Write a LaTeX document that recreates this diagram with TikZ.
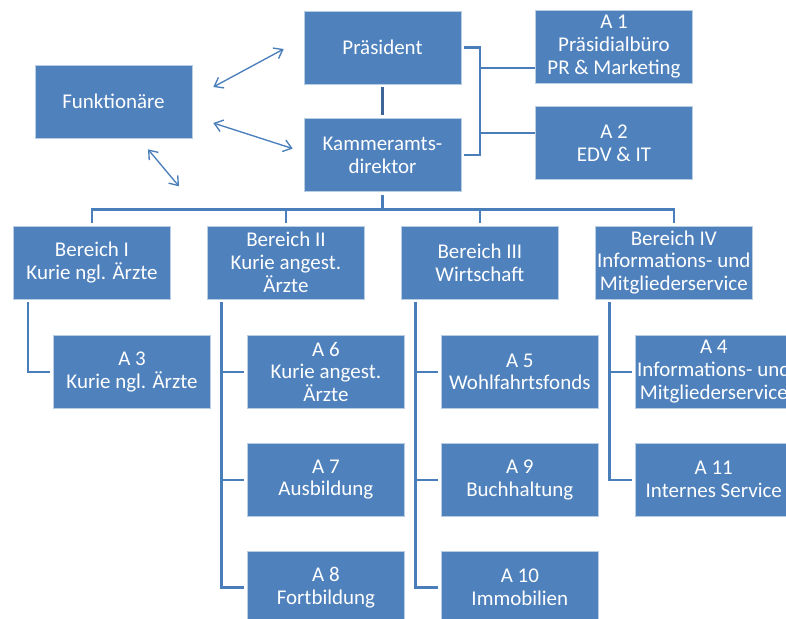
\documentclass[tikz,border=0pt]{standalone}
\usepackage{fontspec}
\setmainfont{Carlito}
\usepackage{xcolor}
\usepackage{tikz}
\usetikzlibrary{arrows.meta,positioning,calc}
\definecolor{BoxBlue}{HTML}{4F81BD}
\definecolor{LineBlue}{HTML}{4A7EBB}
\definecolor{DarkLine}{HTML}{3D6598}
\definecolor{EdgeBlue}{HTML}{B9CDE5}
\newcommand{\boxfont}{\fontsize{17.9pt}{19.4pt}\selectfont}

\begin{document}
\begin{tikzpicture}[
  x=0.3mm,y=-0.3mm,
  node distance=10.3mm and 10.9mm,
  box/.style={draw=EdgeBlue,line width=0.5pt,fill=BoxBlue,minimum width=47.1mm,minimum height=21.9mm,inner sep=0pt,align=center,text=white,font=\boxfont},
  conn/.style={draw=LineBlue,line width=2pt},
  link/.style={draw=DarkLine,line width=2.6pt},
  dbl/.style={{Straight Barb[length=2.4mm,width=3.6mm]}-{Straight Barb[length=2.4mm,width=3.6mm]},draw=LineBlue,line width=0.4mm}
]
\useasboundingbox (0,0) rectangle (786,618);
\node[box] (praes) at (382.5,47.5) {Präsident};
\node[box,below=10.2mm of praes] (kam) {Kammeramts-\\direktor};
\node[box] (funk) at (113.5,101.5) {Funktionäre};
\node[box] (a1) at (614,46.5) {A 1\\Präsidialbüro\\PR \& Marketing};
\node[box,below=6.9mm of a1] (a2) {A 2\\EDV \& IT};
\node[box] (b1) at (92,262.5) {Bereich I\\Kurie ngl. Ärzte};
\node[box,right=of b1] (b2) {Bereich II\\Kurie angest.\\Ärzte};
\node[box,right=of b2] (b3) {Bereich III\\Wirtschaft};
\node[box,right=of b3] (b4) {Bereich IV\\Informations- und\\Mitgliederservice};
\node[box,below=10.7mm of b1,xshift=12mm] (a3) {A 3\\Kurie ngl. Ärzte};
\node[box,below=10.7mm of b2,xshift=12mm] (a6) {A 6\\Kurie angest.\\Ärzte};
\node[box,below=of a6] (a7) {A 7\\Ausbildung};
\node[box,below=of a7] (a8) {A 8\\Fortbildung};
\node[box,below=10.7mm of b3,xshift=12mm] (a5) {A 5\\Wohlfahrtsfonds};
\node[box,below=of a5] (a9) {A 9\\Buchhaltung};
\node[box,below=of a9] (a10) {A 10\\Immobilien};
\node[box,below=10.7mm of b4,xshift=12mm] (a4) {A 4\\Informations- und\\Mitgliederservice};
\node[box,below=of a4] (a11) {A 11\\Internes Service};
% top
\draw[link] ([yshift=-0.9mm]praes.south) -- ([yshift=0.9mm]kam.north);
\draw[conn] ([xshift=0.9mm]praes.east) -- ++(4.8mm,0) coordinate (brk) |- ([xshift=0.9mm]kam.east);
\coordinate (a1in) at ([yshift=4.5mm]a1.south west);
\coordinate (a2in) at ([yshift=-8.1mm]a2.north west);
\draw[conn] (brk |- a1in) -- (a1in);
\draw[conn] (brk |- a2in) -- (a2in);
% arrows
\coordinate (f1) at ($(funk.east)+(6.3mm,4.35mm)$);
\coordinate (p1) at ($(praes.west)+(-6mm,-0.45mm)$);
\coordinate (f2) at ($(funk.east)+(6.3mm,-6.45mm)$);
\coordinate (k2) at ($(kam.west)+(-3.3mm,1.95mm)$);
\coordinate (f3) at ($(funk.south)+(10.35mm,-3.3mm)$);
\coordinate (free) at ($(funk.south)+(19.65mm,-14.4mm)$);
\draw[dbl] (f1) -- (p1);
\draw[dbl] (f2) -- (k2);
\draw[dbl] (f3) -- (free);
% bereiche
\draw[conn] ([yshift=-0.9mm]kam.south) -- ++(0,-4.35mm) coordinate (bus);
\draw[conn] ([yshift=0.9mm]b1.north) |- (bus) -| ([yshift=0.9mm]b4.north);
\foreach \b in {b2,b3}
  \draw[conn] ([yshift=0.9mm]\b.north) -- (\b.north |- bus);
% abteilungen
\draw[conn] ([xshift=4.35mm,yshift=-0.9mm]b1.south west) |- ([xshift=-0.9mm]a3.west);
\draw[conn] ([xshift=4.35mm,yshift=-0.9mm]b2.south west) coordinate (s2) |- ([xshift=-0.9mm]a8.west);
\foreach \a in {a6,a7}
  \draw[conn] (s2 |- \a.west) -- ([xshift=-0.9mm]\a.west);
\draw[conn] ([xshift=4.35mm,yshift=-0.9mm]b3.south west) coordinate (s3) |- ([xshift=-0.9mm]a10.west);
\foreach \a in {a5,a9}
  \draw[conn] (s3 |- \a.west) -- ([xshift=-0.9mm]\a.west);
\draw[conn] ([xshift=4.35mm,yshift=-0.9mm]b4.south west) coordinate (s4) |- ([xshift=-0.9mm]a11.west);
\draw[conn] (s4 |- a4.west) -- ([xshift=-0.9mm]a4.west);
\end{tikzpicture}
\end{document}
